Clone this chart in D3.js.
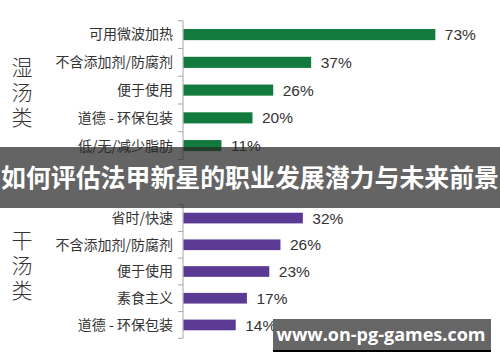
<!DOCTYPE html>
<html>
<head>
<meta charset="utf-8">
<script src="https://cdn.jsdelivr.net/npm/d3@7"></script>
<style>
  body { margin: 0; background: #fff; }
  svg { display: block; font-family: 'Noto Sans CJK SC', 'Noto Sans', sans-serif; }
</style>
</head>
<body>
<div id="graf"></div>
<script>
// 湿汤类
const wetCats = ['可用微波加热', '不含添加剂/防腐剂', '便于使用', '道德 - 环保包装', '低/无/减少脂肪']
const wetVals = [73, 37, 26, 20, 11]
// 干汤类
const dryCats = ['省时/快速', '不含添加剂/防腐剂', '便于使用', '素食主义', '道德 - 环保包装']
const dryVals = [32, 26, 23, 17, 14]

const groupNames = ['湿汤类', '干汤类']
const titulo = '如何评估法甲新星的职业发展潜力与未来前景'
const marca = 'www.on-pg-games.com'

const anchoTotal = 500
const altoTotal = 362

const svg = d3.select('#graf')
  .append('svg')
  .attr('width', anchoTotal)
  .attr('height', altoTotal)

const ejeX = 183

const grupos = [
  { name: groupNames[0], cats: wetCats, vals: wetVals, color: '#127a3d', y0: 20.7, y1: 159.5, w: 345, labelY: 57 },
  { name: groupNames[1], cats: dryCats, vals: dryVals, color: '#5b3a94', y0: 204.7, y1: 338.3, w: 373, labelY: 230 },
]

grupos.forEach(gr => {
  const data = gr.cats.map((c, i) => ({ cat: c, val: gr.vals[i] }))

  const y = d3.scaleBand()
    .domain(gr.cats)
    .range([gr.y0, gr.y1])
    .paddingInner(0.6)
    .paddingOuter(0.3)

  const x = d3.scaleLinear()
    .domain([0, 100])
    .range([0, gr.w])

  const g = svg.append('g')

  // eje vertical con ticks entre categorias
  g.append('line')
    .attr('x1', ejeX).attr('x2', ejeX)
    .attr('y1', gr.y0).attr('y2', gr.y1)
    .attr('stroke', '#a6a6a6')
    .attr('stroke-width', 1)

  const paso = (gr.y1 - gr.y0) / gr.cats.length
  g.selectAll('.tick')
    .data(d3.range(gr.cats.length + 1))
    .enter()
    .append('line')
    .attr('x1', ejeX - 5).attr('x2', ejeX)
    .attr('y1', i => gr.y0 + i * paso)
    .attr('y2', i => gr.y0 + i * paso)
    .attr('stroke', '#a6a6a6')

  g.selectAll('rect')
    .data(data)
    .enter()
    .append('rect')
    .attr('x', ejeX + 0.5)
    .attr('y', d => y(d.cat))
    .attr('width', d => x(d.val))
    .attr('height', y.bandwidth())
    .attr('fill', gr.color)

  g.selectAll('.cat')
    .data(data)
    .enter()
    .append('text')
    .attr('x', ejeX - 10)
    .attr('y', d => y(d.cat) + y.bandwidth() / 2)
    .attr('dy', '0.35em')
    .attr('text-anchor', 'end')
    .attr('font-size', 14)
    .attr('fill', '#333')
    .text(d => d.cat)

  g.selectAll('.val')
    .data(data)
    .enter()
    .append('text')
    .attr('x', d => ejeX + x(d.val) + 10)
    .attr('y', d => y(d.cat) + y.bandwidth() / 2)
    .attr('dy', '0.36em')
    .attr('font-size', 15.5)
    .attr('font-family', 'Liberation Sans, sans-serif')
    .attr('fill', '#333')
    .text(d => `${d.val}%`)

  // nombre del grupo en vertical
  g.append('text')
    .attr('x', 22)
    .attr('y', gr.labelY)
    .attr('writing-mode', 'vertical-rl')
    .attr('letter-spacing', 4)
    .attr('font-size', 21)
    .attr('font-weight', 300)
    .attr('fill', '#333')
    .text(gr.name)
})

// banner del titulo
svg.append('rect')
  .attr('x', 0).attr('y', 147)
  .attr('width', anchoTotal).attr('height', 61)
  .attr('fill', 'rgba(40,40,40,0.72)')

svg.append('text')
  .attr('x', anchoTotal / 2)
  .attr('y', 178)
  .attr('dy', '0.36em')
  .attr('text-anchor', 'middle')
  .attr('font-size', 25)
  .attr('font-weight', 'bold')
  .attr('fill', '#fff')
  .attr('textLength', 498)
  .attr('lengthAdjust', 'spacingAndGlyphs')
  .text(titulo)

// marca de agua
svg.append('rect')
  .attr('x', 273).attr('y', 322)
  .attr('width', 218).attr('height', 30)
  .attr('fill', '#000')
svg.append('rect')
  .attr('x', 273).attr('y', 319)
  .attr('width', 218).attr('height', 31)
  .attr('fill', '#666')
svg.append('text')
  .attr('x', 381)
  .attr('y', 335)
  .attr('dy', '0.35em')
  .attr('text-anchor', 'middle')
  .attr('font-size', 18)
  .attr('font-weight', 'bold')
  .attr('font-family', 'Open Sans, sans-serif')
  .attr('fill', '#fff')
  .text(marca)
</script>
</body>
</html>
